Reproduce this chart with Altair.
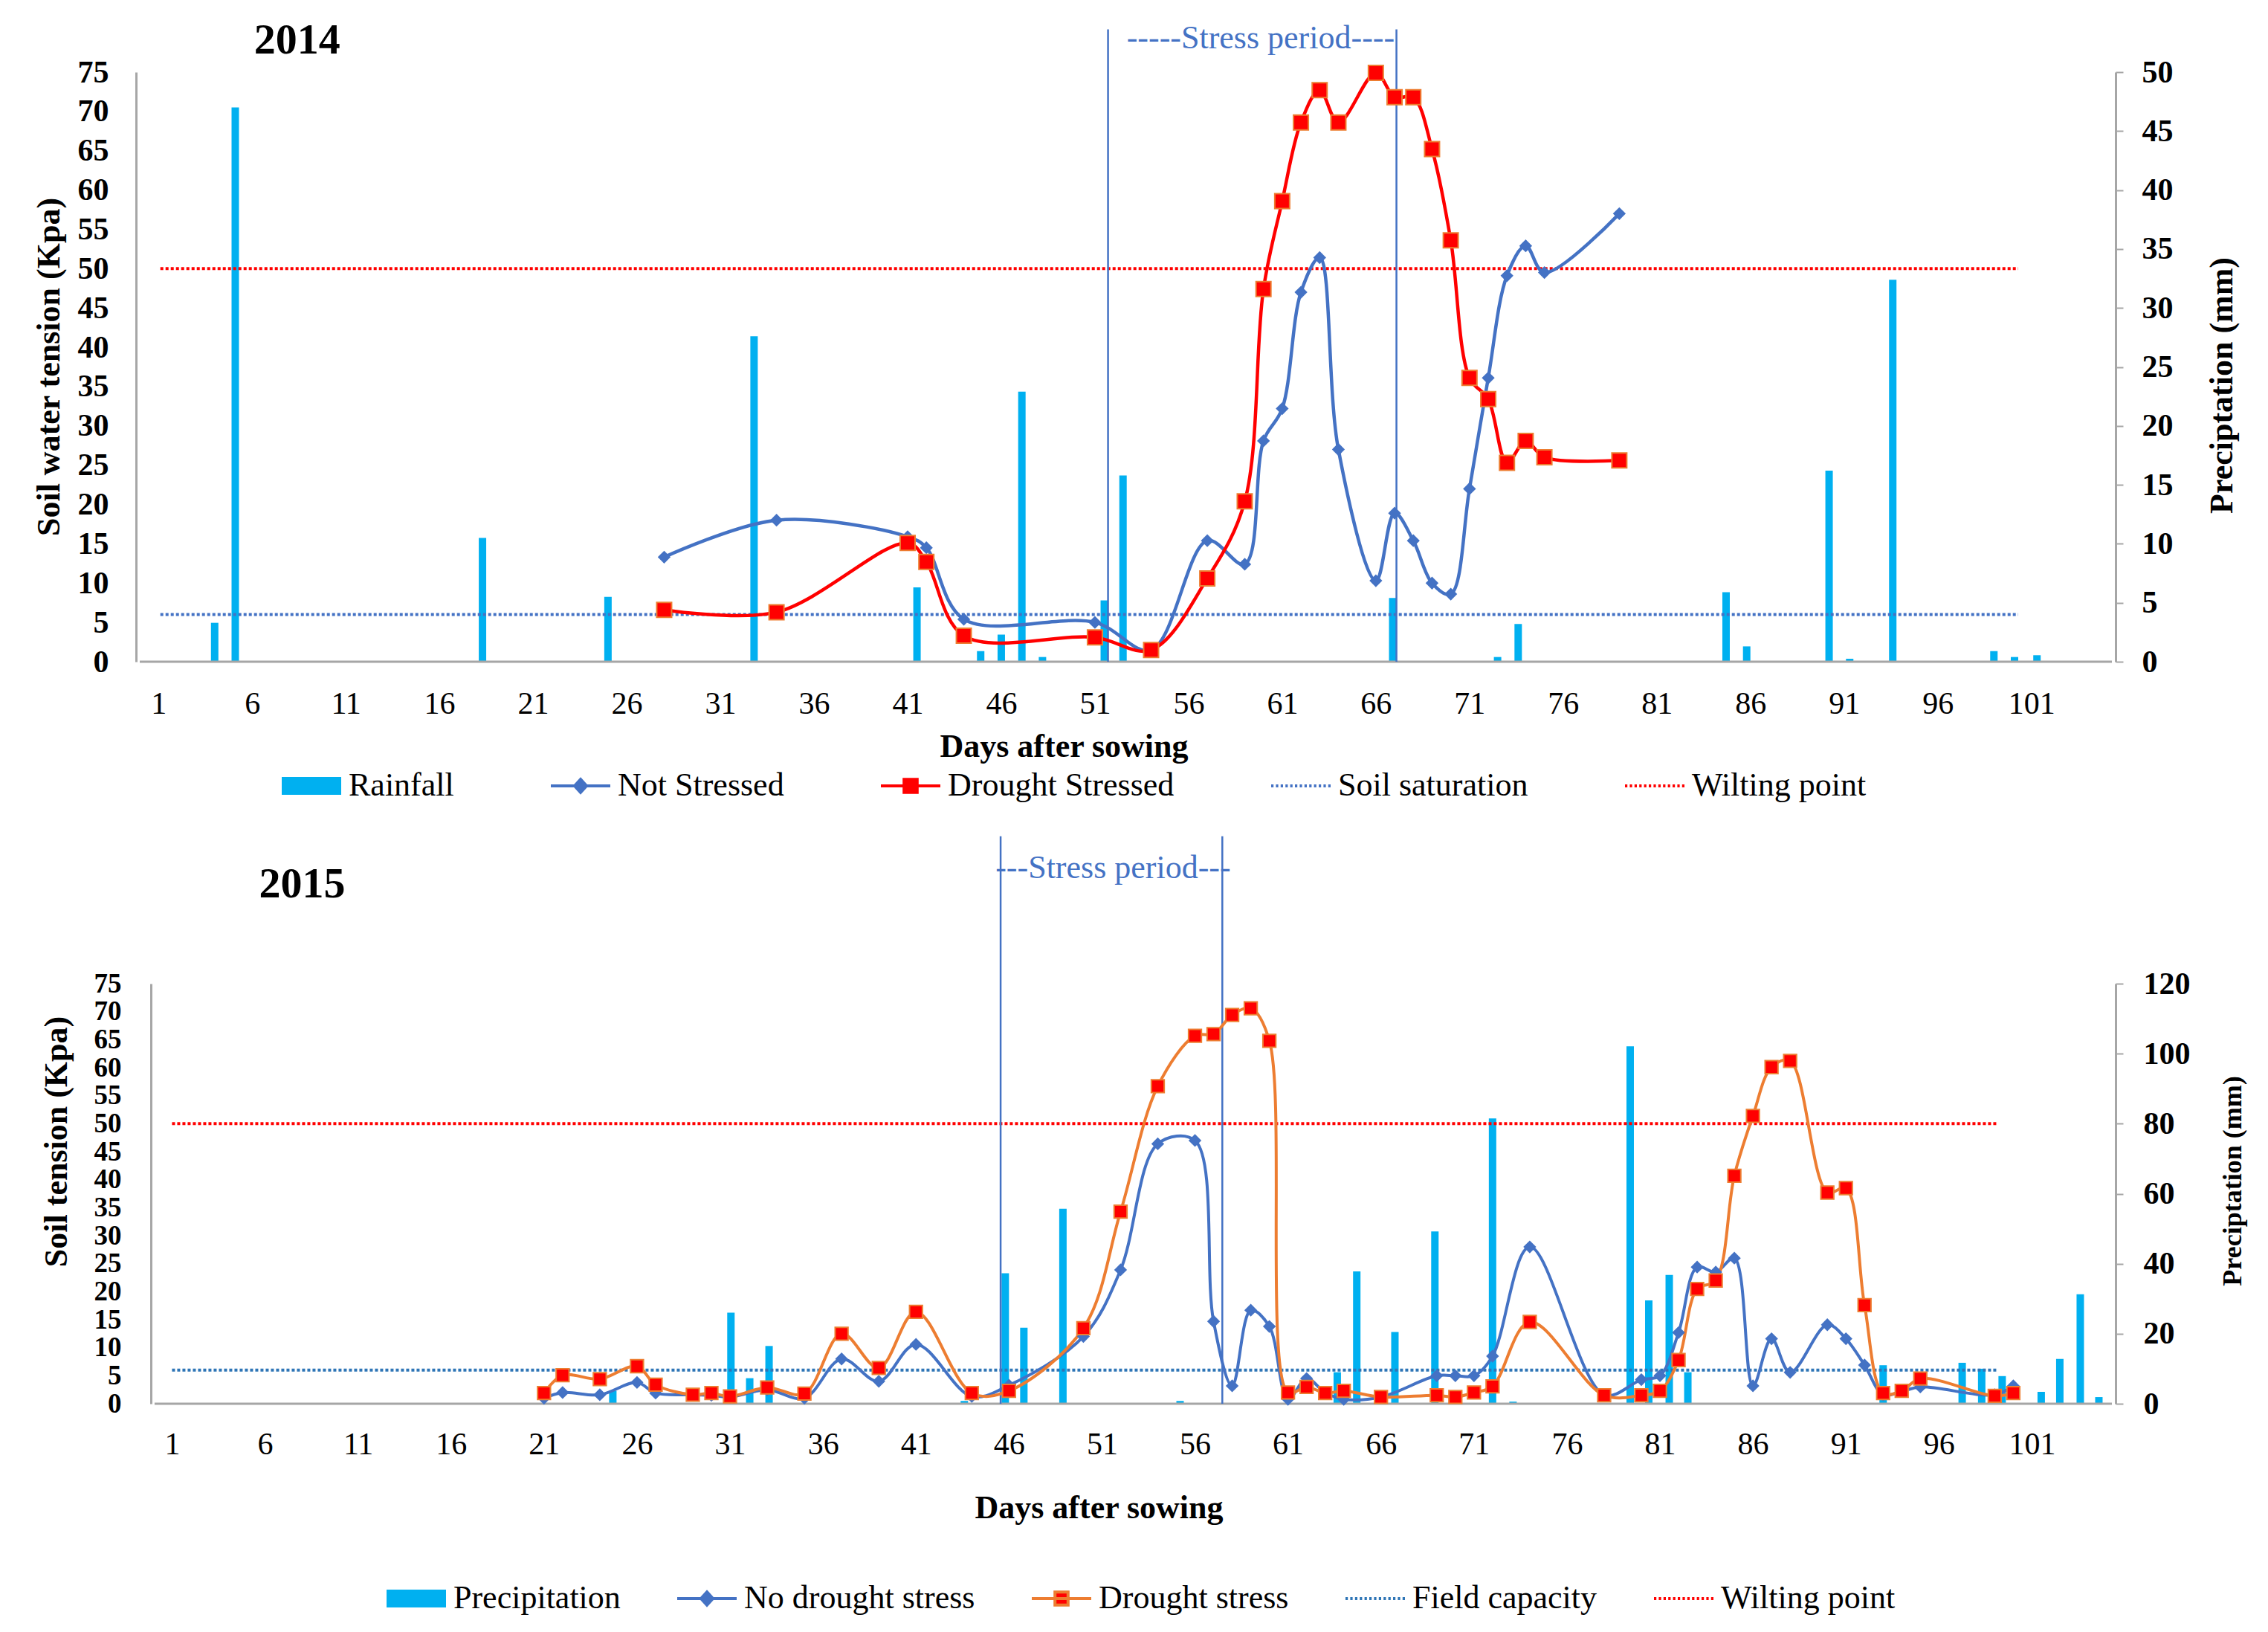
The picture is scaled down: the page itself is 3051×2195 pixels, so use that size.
"""Soil water tension and rainfall, 2014 and 2015 seasons."""
import altair as alt
import pandas as pd

FONT = "Liberation Serif"
BLUE = "#4472C4"
RED = "#FF0000"
ORANGE = "#ED7D31"
CYAN = "#00B0F0"
FC_BLUE = "#2E75B6"
GREY = "#A6A6A6"

day_ticks = list(range(1, 102, 5))

# ---- 2014 season ----
days_2014 = [28, 34, 41, 42, 44, 51, 54, 57, 59, 60, 61, 62, 63, 64, 66, 67,
             68, 69, 70, 71, 72, 73, 74, 75, 79]
not_stressed_2014 = [13.3, 18.0, 15.9, 14.5, 5.4, 5.0, 1.5, 15.4, 12.4, 28.1,
                     32.2, 47.0, 51.4, 27.0, 10.3, 18.9, 15.4, 10.0, 8.6, 22.0,
                     36.1, 49.1, 52.9, 49.5, 57.0]
drought_2014 = [6.6, 6.3, 15.1, 12.7, 3.3, 3.1, 1.5, 10.6, 20.4, 47.4, 58.6,
                68.6, 72.7, 68.6, 74.9, 71.8, 71.8, 65.2, 53.6, 36.1, 33.4,
                25.3, 28.1, 26.0, 25.6]
rain_day_2014 = [4.0, 5.1, 18.3, 25.0, 32.8, 41.5, 44.9, 46.0, 47.1, 48.2,
                 51.5, 52.5, 66.9, 72.5, 73.6, 84.7, 85.8, 90.2, 91.3, 93.6,
                 99.0, 100.1, 101.3]
rain_mm_2014 = [3.3, 47.0, 10.5, 5.5, 27.6, 6.3, 0.9, 2.3, 22.9, 0.4, 5.2,
                15.8, 5.4, 0.4, 3.2, 5.9, 1.3, 16.2, 0.25, 32.4, 0.9, 0.4, 0.55]
stress_days_2014 = [51.7, 67.1]
ref_kpa_2014 = [6, 50]
ref_span_2014 = [1.1, 100.3]
legend_2014 = ["Rainfall", "Not Stressed", "Drought Stressed",
               "Soil saturation", "Wilting point"]

# ---- 2015 season ----
days_2015 = [21, 22, 24, 26, 27, 29, 30, 31, 33, 35, 37, 39, 41, 44, 46, 50,
             52, 54, 56, 57, 58, 59, 60, 61, 62, 63, 64, 66, 69, 70, 71, 72,
             74, 78, 80, 81, 82, 83, 84, 85, 86, 87, 88, 90, 91, 92, 93, 94,
             95, 99, 100]
no_stress_2015 = [1.0, 2.0, 1.6, 3.8, 1.9, 1.6, 1.5, 1.2, 2.5, 1.0, 8.0, 4.0,
                  10.6, 1.3, 3.3, 12.0, 23.9, 46.4, 47.0, 14.7, 3.2, 16.7,
                  13.8, 0.8, 4.5, 2.0, 0.8, 1.2, 5.0, 5.0, 5.0, 8.5, 28.0, 1.6,
                  4.3, 5.0, 12.7, 24.4, 23.5, 26.0, 3.2, 11.6, 5.6, 14.1, 11.6,
                  6.9, 1.6, 2.2, 3.0, 1.6, 3.2]
drought_2015 = [1.9, 5.1, 4.4, 6.7, 3.4, 1.6, 1.9, 1.3, 2.9, 1.8, 12.5, 6.4,
                16.4, 1.9, 2.3, 13.5, 34.3, 56.7, 65.7, 66.0, 69.4, 70.6, 64.8,
                2.0, 3.0, 1.9, 2.3, 1.2, 1.5, 1.2, 2.0, 3.1, 14.6, 1.5, 1.5,
                2.3, 7.8, 20.5, 22.0, 40.7, 51.4, 60.1, 61.2, 37.7, 38.5, 17.6,
                1.9, 2.3, 4.5, 1.4, 1.9]
rain_day_2015 = [24.7, 31.05, 32.06, 33.1, 43.6, 45.8, 46.8, 48.9, 55.2,
                 63.65, 64.7, 66.75, 68.9, 72.0, 73.1, 79.4, 80.4, 81.5, 82.5,
                 93.0, 97.25, 98.3, 99.4, 101.5, 102.5, 103.6, 104.6]
rain_mm_2015 = [3.7, 26.0, 7.3, 16.5, 0.8, 37.3, 21.7, 55.7, 0.8, 9.0, 37.8,
                20.5, 49.2, 81.5, 0.6, 102.1, 29.5, 36.8, 9.0, 11.0, 11.7,
                10.0, 7.9, 3.4, 12.8, 31.3, 1.9]
stress_days_2015 = [45.55, 57.47]
ref_kpa_2015 = [6, 50]
ref_span_2015 = [1.0, 99.1]
legend_2015 = ["Precipitation", "No drought stress", "Drought stress",
               "Field capacity", "Wilting point"]


def dotted_path():
    """Short dashes along a horizontal legend line."""
    parts = []
    x = -1.0
    while x < 0.95:
        parts.append(f"M{x:.2f},0H{x + 0.08:.2f}")
        x += 0.16
    return "".join(parts)


SWATCH = "M-0.95,-0.25H0.95V0.25H-0.95Z"
DIAMOND_LINE = "M-1,0H1M0,-0.22L0.2,0L0,0.22L-0.2,0Z"
SQUARE_LINE = "M-1,0H1M-0.22,-0.22H0.22V0.22H-0.22Z"
DOTS = dotted_path()


def season_panel(days, calm, stressed, rain_day, rain_mm, stress_days,
                 ref_kpa, ref_span, names, p):
    """One season: rainfall bars on the right axis, tension lines on the left."""
    xs = alt.Scale(domain=p["x_domain"], nice=False, zero=False)
    ky = alt.Scale(domain=[0, 75], nice=False, zero=False)

    x_axis = alt.Axis(
        values=day_ticks, title="Days after sowing", grid=False, ticks=False,
        tickSize=0, domain=False, labelFont=FONT, labelFontSize=42,
        labelColor="black", labelPadding=p["x_label_pad"], labelFlush=False,
        titleFont=FONT, titleFontSize=44, titleFontWeight="bold",
        titleColor="black", titleX=p["x_title_x"], titleY=p["x_title_y"],
        titleAlign="center", titleBaseline="top")
    left_axis = alt.Axis(
        orient="left", values=list(range(0, 80, 5)), title=p["left_title"],
        offset=p["left_offset"], grid=False, ticks=False, tickSize=0,
        labelFont=FONT, labelFontSize=p["left_label_size"],
        labelFontWeight="bold", labelColor="black", labelFlush=False,
        labelOverlap=False, labelPadding=p["left_label_pad"],
        titleFont=FONT, titleFontSize=44, titleFontWeight="bold",
        titleColor="black", titlePadding=p["left_title_pad"],
        titleY=p["left_title_y"], titleAlign="center",
        domainColor=GREY, domainWidth=3)
    right_axis = alt.Axis(
        orient="right", values=list(range(0, p["mm_max"] + 1, p["mm_step"])),
        title="Preciptation (mm)", grid=False, ticks=True, tickSize=10,
        tickColor=GREY, tickWidth=2, labelFont=FONT, labelFontSize=42,
        labelFontWeight="bold", labelColor="black", labelFlush=False,
        labelOverlap=False, labelPadding=p["right_label_pad"],
        titleFont=FONT, titleFontSize=p["right_title_size"],
        titleFontWeight="bold", titleColor="black", titleAngle=270,
        titleBaseline="top", titleAlign="center",
        titlePadding=p["right_title_pad"], titleY=p["right_title_y"],
        domainColor=GREY, domainWidth=3)

    def xd(field):
        return alt.X(field, scale=xs, axis=x_axis)

    def yk(field):
        return alt.Y(field, scale=ky, axis=left_axis)

    rain = pd.DataFrame({"day": rain_day, "mm": rain_mm})
    bars = alt.Chart(rain).mark_bar(size=p["bar_size"], color=CYAN).encode(
        x=xd("day:Q"),
        y=alt.Y("mm:Q", scale=alt.Scale(domain=[0, p["mm_max"]], nice=False),
                axis=right_axis),
    )

    # horizontal axis line, starting where the left axis stands
    base = pd.DataFrame({"start": [p["axis_start"]], "end": [p["x_domain"][1]],
                         "kpa": [0]})
    base_line = alt.Chart(base).mark_rule(color=GREY, strokeWidth=3).encode(
        x=xd("start:Q"), x2="end:Q", y=yk("kpa:Q"))

    refs = pd.DataFrame({"kpa": ref_kpa, "start": [ref_span[0]] * 2,
                         "end": [ref_span[1]] * 2,
                         "c": [p["ref_color"], RED]})
    ref_lines = alt.Chart(refs).mark_rule(strokeDash=[4, 3],
                                          strokeWidth=4).encode(
        x=xd("start:Q"), x2="end:Q", y=yk("kpa:Q"),
        color=alt.Color("c:N", scale=None),
    )

    stress = pd.DataFrame({"day": stress_days, "base": [0, 0],
                           "top": [p["stress_top"]] * 2})
    stress_lines = alt.Chart(stress).mark_rule(color=BLUE,
                                               strokeWidth=2.5).encode(
        x=xd("day:Q"), y=yk("base:Q"), y2="top:Q",
    )

    series = pd.DataFrame({"day": days, "calm": calm, "stressed": stressed})
    calm_line = alt.Chart(series).mark_line(
        interpolate="catmull-rom", color=BLUE,
        strokeWidth=p["line_width"]).encode(x=xd("day:Q"), y=yk("calm:Q"))
    stressed_line = alt.Chart(series).mark_line(
        interpolate="catmull-rom", color=p["stress_line"],
        strokeWidth=p["line_width"]).encode(
        x=xd("day:Q"), y=yk("stressed:Q"))
    calm_pts = alt.Chart(series).mark_point(
        shape="diamond", filled=True, color=BLUE, size=300, opacity=1).encode(
        x=xd("day:Q"), y=yk("calm:Q"))
    stressed_pts = alt.Chart(series).mark_point(
        shape="square", fill=RED, stroke=ORANGE, strokeWidth=2,
        size=p["square_size"], opacity=1).encode(
        x=xd("day:Q"), y=yk("stressed:Q"))

    year_note = alt.Chart(pd.DataFrame({
        "day": [p["year_day"]], "kpa": [p["year_kpa"]], "t": [p["year"]]
    })).mark_text(font=FONT, fontSize=58, fontWeight="bold", color="black",
                  align="center", baseline="alphabetic").encode(
        x=xd("day:Q"), y=yk("kpa:Q"), text="t:N")
    stress_note = alt.Chart(pd.DataFrame({
        "day": [p["stress_day"]], "kpa": [p["stress_kpa"]],
        "t": [p["stress_label"]]
    })).mark_text(font=FONT, fontSize=44, color=BLUE, align="center",
                  baseline="alphabetic").encode(
        x=xd("day:Q"), y=yk("kpa:Q"), text="t:N")

    leg = alt.Legend(
        title=None, orient="none", legendX=p["legend_x"],
        legendY=p["legend_y"], direction="horizontal", columns=5,
        symbolSize=6400, symbolStrokeWidth=4, symbolOpacity=1,
        labelFont=FONT, labelFontSize=44, labelColor="black", labelOffset=8,
        labelLimit=800, columnPadding=p["legend_gap"], padding=0)
    key = pd.DataFrame({"series": names})
    legend_layer = alt.Chart(key).mark_point(filled=True, opacity=0).encode(
        fill=alt.Fill("series:N", legend=leg,
                      scale=alt.Scale(domain=names, range=p["key_fill"])),
        stroke=alt.Stroke("series:N", legend=leg,
                          scale=alt.Scale(domain=names,
                                          range=p["key_stroke"])),
        shape=alt.Shape("series:N", legend=leg,
                        scale=alt.Scale(domain=names,
                                        range=[SWATCH, DIAMOND_LINE,
                                               SQUARE_LINE, DOTS, DOTS])),
    )

    tension = alt.layer(base_line, ref_lines, stress_lines, calm_line,
                        stressed_line, calm_pts, stressed_pts, year_note,
                        stress_note)
    return alt.layer(bars, tension, legend_layer).resolve_scale(
        y="independent").properties(width=p["width"], height=p["height"])


panel_2014 = season_panel(
    days_2014, not_stressed_2014, drought_2014, rain_day_2014, rain_mm_2014,
    stress_days_2014, ref_kpa_2014, ref_span_2014, legend_2014,
    dict(width=2663, height=793, x_domain=[0, 105.3], axis_start=0,
         mm_max=50, mm_step=5, bar_size=10,
         square_size=400, ref_color=BLUE, stress_line=RED, line_width=4.5,
         left_title="Soil water tension (Kpa)", left_label_size=42,
         left_offset=0, left_label_pad=37, left_title_pad=16,
         left_title_y=396, right_label_pad=25, right_title_pad=44,
         right_title_size=44, right_title_y=421, x_label_pad=36,
         x_title_x=1248, x_title_y=92,
         stress_top=80.45, year="2014", year_day=8.4, year_kpa=77.4,
         stress_label="-----Stress period----", stress_day=59.85,
         stress_kpa=78.0, legend_x=194, legend_y=918, legend_gap=122,
         key_fill=[CYAN, BLUE, RED, BLUE, RED],
         key_stroke=[CYAN, BLUE, RED, BLUE, RED]))

panel_2015 = season_panel(
    days_2015, no_stress_2015, drought_2015, rain_day_2015, rain_mm_2015,
    stress_days_2015, ref_kpa_2015, ref_span_2015, legend_2015,
    dict(width=2663, height=565, x_domain=[-0.736, 105.3], axis_start=0.06,
         mm_max=120, mm_step=20, bar_size=10,
         square_size=300, ref_color=FC_BLUE, stress_line=ORANGE,
         line_width=4, left_title="Soil tension (Kpa)", left_label_size=37,
         left_offset=-20, left_label_pad=40, left_title_pad=28,
         left_title_y=212, right_label_pad=27, right_title_pad=40,
         right_title_size=36, right_title_y=265, x_label_pad=34,
         x_title_x=1295, x_title_y=118,
         stress_top=101.3, year="2015", year_day=8.0, year_kpa=90.4,
         stress_label="---Stress period---", stress_day=51.6,
         stress_kpa=93.8, legend_x=335, legend_y=785, legend_gap=68,
         key_fill=[CYAN, BLUE, RED, FC_BLUE, RED],
         key_stroke=[CYAN, BLUE, ORANGE, FC_BLUE, RED]))

chart = alt.concat(
    panel_2014, panel_2015, columns=1, spacing=44, align="none",
).resolve_scale(
    fill="independent", stroke="independent", shape="independent",
    color="independent", x="independent",
).resolve_legend(
    fill="independent", stroke="independent", shape="independent",
).properties(
    padding={"left": 36, "top": 17, "right": 5, "bottom": 5},
    background="white",
).configure_view(stroke=None)

chart.save("out.html", embed_options={"renderer": "svg", "actions": False})
